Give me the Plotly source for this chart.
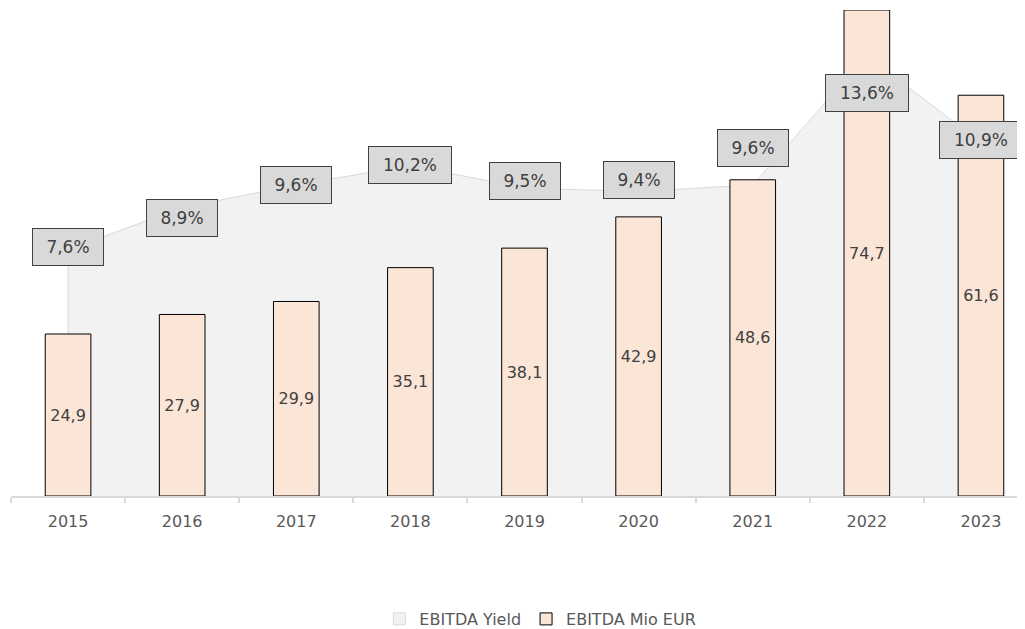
import plotly.graph_objects as go

years = ["2015", "2016", "2017", "2018", "2019", "2020", "2021", "2022", "2023"]
ebitda_mio = [24.9, 27.9, 29.9, 35.1, 38.1, 42.9, 48.6, 74.7, 61.6]
ebitda_yield = [7.6, 8.9, 9.6, 10.2, 9.5, 9.4, 9.6, 13.6, 10.9]

# label offsets (px) of the yield boxes relative to their points (style only)
label_shift = [3, -10, 0, 1, 7, 11, 37, -38, 3]

FONT = "DejaVu Sans"
TXT = "#404040"

def de(v, pct=False):
    s = f"{v:.1f}".replace(".", ",")
    return s + "%" if pct else s

fig = go.Figure()

# area (yield) on primary y, drawn first / behind
fig.add_trace(go.Scatter(
    x=[years[0]] + years + [years[-1]],
    y=[0] + ebitda_yield + [0],
    mode="lines",
    fill="toself",
    fillcolor="#f2f2f2",
    line=dict(color="#d9d9d9", width=1),
    name="EBITDA Yield",
    yaxis="y",
    hoverinfo="skip",
    showlegend=False,
    legendgroup="yield",
))

# legend entry (square swatch) for the yield area
fig.add_trace(go.Bar(
    x=[None], y=[None],
    name="EBITDA Yield",
    marker=dict(color="#f2f2f2", line=dict(color="#d9d9d9", width=1)),
    yaxis="y2",
    showlegend=True,
    legendgroup="yield",
))

# bars on secondary y (drawn above)
fig.add_trace(go.Bar(
    x=years,
    y=ebitda_mio,
    name="EBITDA Mio EUR",
    marker=dict(color="#fbe5d6", line=dict(color="#000000", width=1)),
    text=[de(v) for v in ebitda_mio],
    textposition="inside",
    insidetextanchor="middle",
    textangle=0,
    constraintext="none",
    textfont=dict(family=FONT, size=16, color=TXT),
    yaxis="y2",
))

annotations = []
for i, (v, sh) in enumerate(zip(ebitda_yield, label_shift)):
    t = de(v, pct=True)
    annotations.append(dict(
        x=i, y=v, xref="x", yref="y",
        text=t, showarrow=False,
        yshift=sh,
        font=dict(family=FONT, size=17, color=TXT),
        bgcolor="#d9d9d9", bordercolor="#404040", borderwidth=1,
        borderpad=8,
        width=54 if len(t) <= 4 else 66,
        height=20,
    ))

fig.update_layout(
    width=1025, height=629,
    margin=dict(l=3, r=8, t=2, b=140),
    paper_bgcolor="white", plot_bgcolor="white",
    barmode="overlay",
    bargap=0.6,
    showlegend=True,
    legend=dict(orientation="h", x=0.522, xanchor="center", y=-0.2505, yanchor="middle",
                font=dict(family=FONT, size=16, color="#595959"),
                traceorder="normal", itemwidth=30),
    xaxis=dict(
        type="category",
        range=[-0.5, 8.386],
        tickson="boundaries",
        ticks="outside", ticklen=5, tickcolor="#d9d9d9", tickwidth=1.5,
        showline=True, linecolor="#d9d9d9", linewidth=1.5,
        showgrid=False, zeroline=False,
        tickfont=dict(family=FONT, size=16, color="#595959"),
        ticklabelstandoff=10,
    ),
    yaxis=dict(range=[0, 15], visible=False, showgrid=False, zeroline=False),
    yaxis2=dict(range=[0, 74.7], overlaying="y", visible=False, showgrid=False, zeroline=False),
    annotations=annotations,
    font=dict(family=FONT),
)

fig.write_html("out.html")
